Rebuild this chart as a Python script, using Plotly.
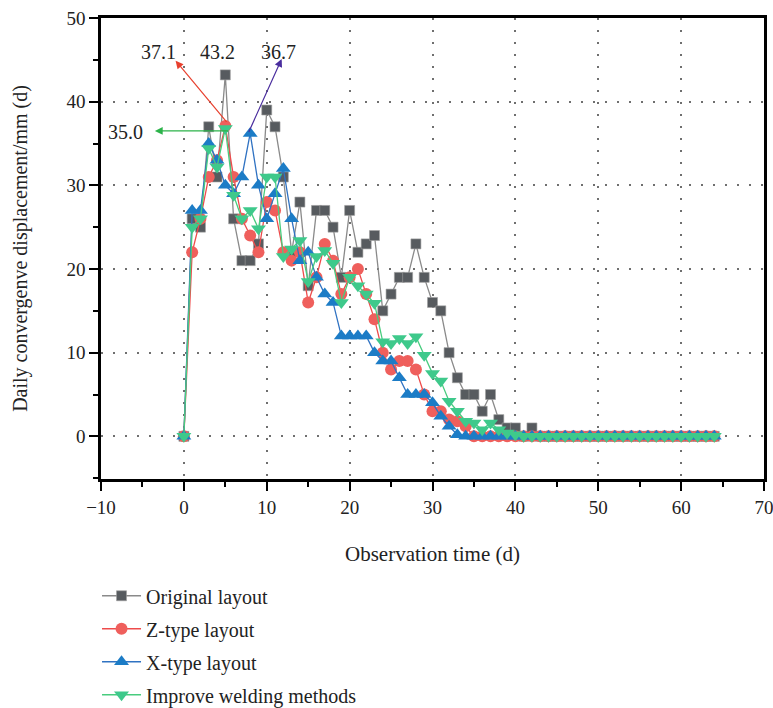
import plotly.graph_objects as go

days = list(range(0, 65))

original = [0, 26, 25, 37, 31, 43.2, 26, 21, 21, 23, 39, 37, 31, 22, 28, 18, 27, 27, 25, 19,
            27, 22, 23, 24, 15, 17, 19, 19, 23, 19, 16, 15, 10, 7, 5, 5, 3, 5, 2, 1,
            1, 0, 1] + [0] * 22
z_type = [0, 22, 26, 31, 33, 37.1, 31, 26, 24, 22, 28, 27, 22, 21, 22, 16, 19, 23, 21, 17,
          19, 20, 17, 14, 10, 8, 9, 9, 8, 5, 3, 3, 2, 1.8, 1.2] + [0] * 30
x_type = [0, 27, 27, 35, 33, 30, 29, 31, 36.2, 30, 26, 29, 32, 26, 21, 22, 19, 17, 16, 12,
          12, 12, 12, 10, 9, 9, 7, 5, 5, 5, 4, 2.4, 1.2, 0.2] + [0] * 31
improve = [0, 25, 26, 34.4, 32.2, 36.8, 28.8, 26, 27, 24.8, 31, 31, 21.5, 22.4, 23.4, 18.5, 21.5, 22.2, 20.7, 16,
           19, 18, 17, 15.9, 11.3, 11.1, 11.7, 11.1, 11.9, 9.7, 7.5, 6.6, 4.2, 3, 1.8, 1.6, 0.8, 1.6, 0.8, 0.4,
           0.2] + [0] * 24

series_names = ["Original layout", "Z-type layout", "X-type layout", "Improve welding methods"]
x_ticks = [-10, 0, 10, 20, 30, 40, 50, 60, 70]
y_ticks = [0, 10, 20, 30, 40, 50]

FONT = "Liberation Serif"

fig = go.Figure()
styles = [
    (original, dict(symbol="square", size=10, color="#575b5f", line=dict(color="#a0a0a0", width=0.6)), "#8a8a8a"),
    (z_type, dict(symbol="circle", size=12, color="#ef5f5c", line=dict(width=0)), "#ee4b4b"),
    (x_type, dict(symbol="triangle-up", size=13, color="#1c7cc6", line=dict(width=0)), "#2f72c2"),
    (improve, dict(symbol="triangle-down", size=13, color="#3ec98b", line=dict(width=0)), "#48cc7e"),
]
for i, (vals, mk, lc) in enumerate(styles):
    fig.add_trace(go.Scatter(
        x=days, y=vals, mode="lines+markers", name=series_names[i],
        marker=mk, line=dict(color=lc, width=1.3), legendgroup=str(i)))

# arrows (no text)
arrows = [
    (-1.0, 44.9, 5.3, 37.4, "#e8402e"),
    (11.8, 45.1, 7.75, 36.2, "#4a2d9e"),
    (-3.5, 36.5, 5.5, 36.5, "#2cb34a"),
]
for hx, hy, tx, ty, col in arrows:
    fig.add_annotation(x=hx, y=hy, ax=tx, ay=ty, xref="x", yref="y", axref="x", ayref="y",
                       text="", showarrow=True, arrowhead=2, arrowsize=1.3, arrowwidth=1.2,
                       arrowcolor=col)

labels = [(-3.1, 45.9, "37.1"), (4.1, 45.9, "43.2"), (11.4, 45.9, "36.7"), (-7.1, 36.4, "35.0")]
for lx, ly, t in labels:
    fig.add_annotation(x=lx, y=ly, xref="x", yref="y", text=t, showarrow=False,
                       font=dict(family=FONT, size=20, color="#222"))

axis_common = dict(
    showline=True, linecolor="black", linewidth=2.5, mirror=True,
    ticks="outside", ticklen=9, tickwidth=2, tickcolor="black",
    showgrid=True, gridcolor="#6f6f6f", gridwidth=1.6, griddash="2px,10px",
    zeroline=False, tickfont=dict(family=FONT, size=19, color="#222"),
    minor=dict(ticks="outside", ticklen=5, tickwidth=2, tickcolor="black", dtick=5, showgrid=False),
    automargin=False, ticklabeloverflow="allow",
)
fig.update_xaxes(range=[-10, 70], tickvals=x_ticks, title=dict(text="Observation time (d)",
                 font=dict(family=FONT, size=21, color="#222"), standoff=30), **axis_common)
fig.update_yaxes(range=[-5.1, 50], tickvals=y_ticks, title=dict(text="Daily convergenve displacement/mm (d)",
                 font=dict(family=FONT, size=20, color="#222"), standoff=34), **axis_common)

fig.update_layout(
    width=773, height=708,
    margin=dict(l=101, r=9, t=18, b=229, autoexpand=False),
    plot_bgcolor="white", paper_bgcolor="white",
    showlegend=True,
    legend=dict(x=-0.006, y=-0.211, xanchor="left", yanchor="top",
                font=dict(family=FONT, size=20, color="#222"),
                tracegroupgap=4, itemwidth=39, bgcolor="rgba(0,0,0,0)"),
)

fig.write_html("out.html")
